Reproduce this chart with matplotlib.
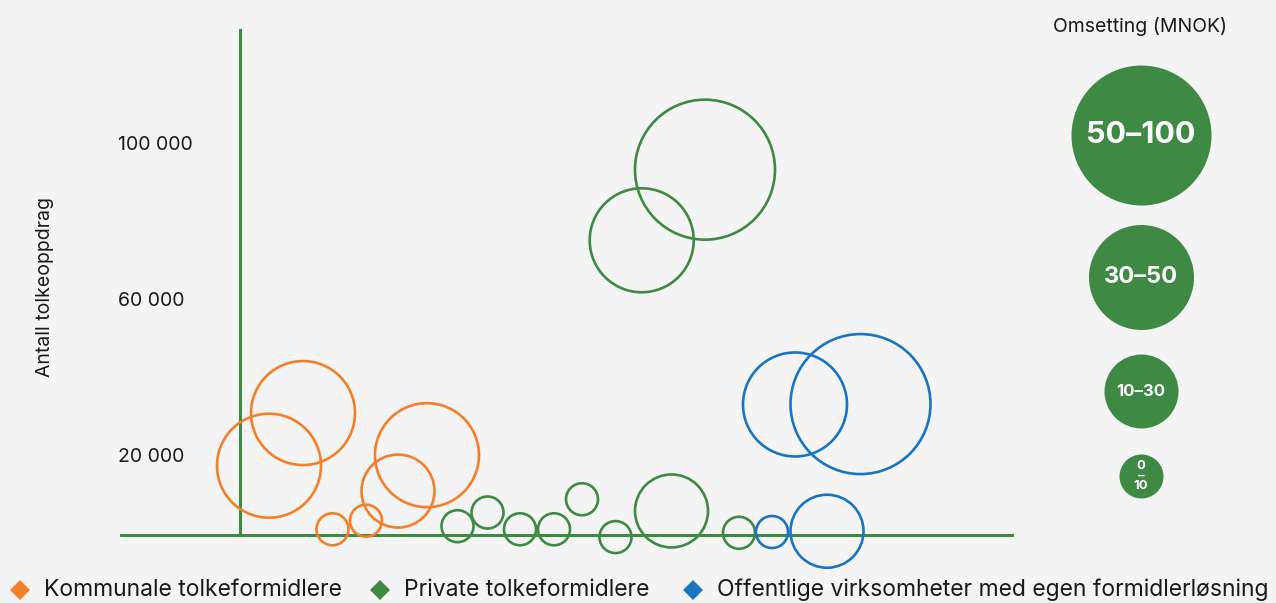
import matplotlib.pyplot as plt

# bubble data: x (arbitrary units), y (antall tolkeoppdrag), omsetning class (0..3)
kommunale_x = [2.9, 6.3, 18.7, 15.8, 9.25, 12.6]
kommunale_y = [17800, 31300, 20500, 11300, 1500, 3700]
kommunale_size = [2, 2, 2, 1, 0, 0]

private_x = [21.75, 24.75, 28.0, 31.4, 34.2, 37.55, 43.15, 49.9, 46.5, 40.17]
private_y = [2300, 5800, 1500, 1500, 9200, -500, 6200, 600, 93700, 75600]
private_size = [0, 0, 0, 0, 0, 0, 1, 0, 3, 2]

offentlige_x = [53.2, 58.7, 55.5, 62.05]
offentlige_y = [800, 1000, 33500, 33600]
offentlige_size = [0, 1, 2, 3]

y_ticks = [100000, 60000, 20000]
y_tick_labels = ["100 000", "60 000", "20 000"]

size_classes = ["0\n–\n10", "10–30", "30–50", "50–100"]
series_names = ["Kommunale tolkeformidlere", "Private tolkeformidlere",
                "Offentlige virksomheter med egen formidlerløsning"]

orange = "#f57f29"
green = "#3e8943"
blue = "#1a75c1"
bg = "#f4f4f4"

plt.rcParams['font.family'] = ['Inter', 'DejaVu Sans']

# radius in pixels for each omsetning class (plot and size legend)
radius_px = [16, 36.5, 52, 70]
legend_radius_px = [22, 37, 52.5, 70]


def area(r_px):
    return (2 * r_px * 0.72) ** 2


fig = plt.figure(figsize=(12.76, 6.03), dpi=100)
fig.patch.set_facecolor(bg)
ax = fig.add_axes([0, 0, 1, 1])
ax.set_facecolor(bg)
ax.set_xlim(-24, 103.6)
ax.set_ylim(-17400, 137200)
ax.axis("off")

# axis lines
ax.plot([-11.9, 77.2], [0, 0], color=green, lw=2.2, zorder=1)
ax.plot([0, 0], [0, 129500], color=green, lw=2.2, zorder=1)

for xs, ys, sz, col in [(kommunale_x, kommunale_y, kommunale_size, orange),
                        (private_x, private_y, private_size, green),
                        (offentlige_x, offentlige_y, offentlige_size, blue)]:
    ax.scatter(xs, ys, s=[area(radius_px[k]) for k in sz], facecolors="none",
               edgecolors=col, linewidths=1.9, zorder=3)

for v, lab in zip(y_ticks, y_tick_labels):
    ax.text(-12.2, v, lab, ha="left", va="center", fontsize=14, color="#1a1a1a")

fig.text(45 / 1276, 1 - 287 / 603, "Antall tolkeoppdrag", rotation=90,
         ha="center", va="center", fontsize=14, color="#1a1a1a")

# size legend
fig.text(1140 / 1276, 1 - 27 / 603, "Omsetting (MNOK)", ha="center", va="center",
         fontsize=14, color="#1a1a1a")
leg_y = [476, 391, 277, 135]
leg_fs = [9.5, 12, 17, 22]
for k, lab in enumerate(size_classes):
    fx, fy = 1141 / 1276, 1 - leg_y[k] / 603
    fig.add_artist(plt.Line2D([fx], [fy], marker="o", markersize=2 * legend_radius_px[k] * 0.72,
                              color=green, markeredgewidth=0, transform=fig.transFigure))
    fig.text(fx, fy, lab, ha="center", va="center", fontsize=leg_fs[k],
             color="white", fontweight="bold", linespacing=0.75)

# bottom legend
leg_x = [20, 380, 693]
for lx, name, col in zip(leg_x, series_names, [orange, green, blue]):
    fig.add_artist(plt.Line2D([lx / 1276], [1 - 590 / 603], marker="D", markersize=10,
                              color=col, markeredgewidth=0, transform=fig.transFigure))
    fig.text((lx + 24) / 1276, 1 - 590 / 603, name, ha="left", va="center",
             fontsize=16.5, color="#1a1a1a")

fig.savefig("out.png", dpi=100, facecolor=bg)
